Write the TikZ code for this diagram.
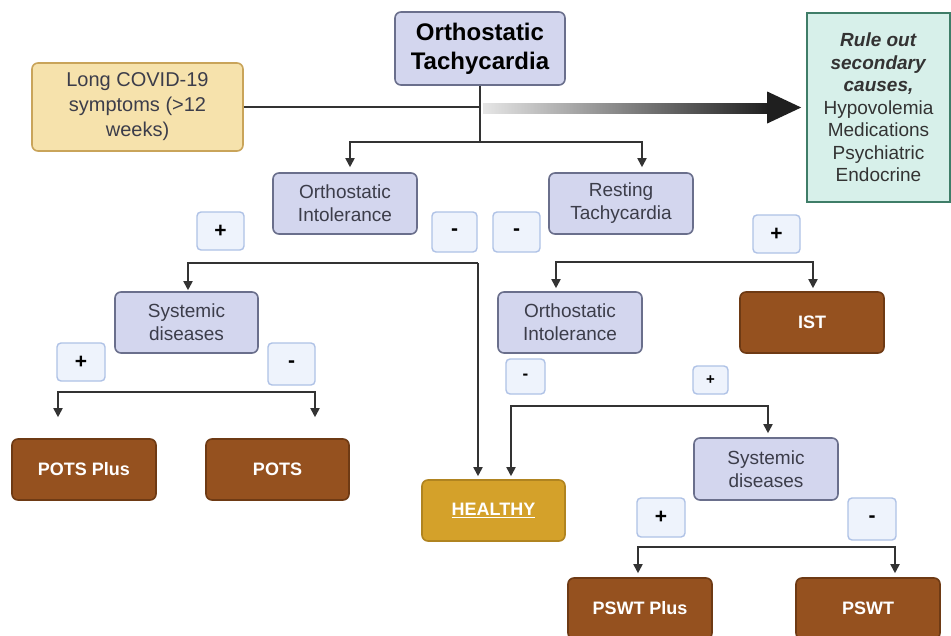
\documentclass[tikz,border=0pt]{standalone}
\usepackage{fontspec}
\setmainfont{Liberation Sans}
\usepackage{xcolor}
\usetikzlibrary{arrows.meta}

\definecolor{lavfill}{HTML}{D3D6EE}
\definecolor{lavline}{HTML}{6A6F8C}
\definecolor{lavtext}{HTML}{3C3D4A}
\definecolor{covfill}{HTML}{F6E2AC}
\definecolor{covline}{HTML}{C9A45A}
\definecolor{mintfill}{HTML}{D7F0EA}
\definecolor{mintline}{HTML}{3F7D68}
\definecolor{signfill}{HTML}{EEF3FC}
\definecolor{signline}{HTML}{AFC2E6}
\definecolor{brownfill}{HTML}{95511F}
\definecolor{brownline}{HTML}{6E3A14}
\definecolor{goldfill}{HTML}{D4A12A}
\definecolor{goldline}{HTML}{B08420}
\definecolor{linec}{HTML}{333333}

\begin{document}
\begin{tikzpicture}[x=1pt, y=-1pt,
  box/.style={draw=lavline, fill=lavfill, line width=1.6pt, rounded corners=6pt, align=center, inner sep=0pt, minimum width=144pt, minimum height=61pt, text=lavtext, font=\fontsize{19}{23}\selectfont},
  outcome/.style={box, draw=brownline, fill=brownfill, text=white, font=\bfseries\fontsize{18}{22}\selectfont},
  sign/.style={draw=signline, fill=signfill, line width=1.4pt, rounded corners=4pt, inner sep=0pt, minimum width=47pt, minimum height=39pt, font=\bfseries\fontsize{21}{21}\selectfont},
  link/.style={draw=linec, line width=1.8pt},
  tip/.style={link, -{Triangle[length=9pt,width=9pt]}, shorten >=3pt}]
  \useasboundingbox[fill=white] (0,0) rectangle (951,635);

  % Main boxes
  \node[box, minimum width=170pt, minimum height=73pt, text=black, font=\bfseries\fontsize{24}{29}\selectfont] (top) at (480,48.5) {Orthostatic\\Tachycardia};
  \node[box, draw=covline, fill=covfill, minimum width=211pt, minimum height=88pt, font=\fontsize{20}{25}\selectfont] (covid) at (137.5,107) {Long COVID-19\\symptoms (>12\\weeks)};
  \node[box, draw=mintline, fill=mintfill, rounded corners=0pt, minimum width=143pt, minimum height=189pt, text=linec, font=\fontsize{19}{22.5}\selectfont] (rule) at (878.5,107.5) {\textbf{\textit{Rule out}}\\\textbf{\textit{secondary}}\\\textbf{\textit{causes,}}\\Hypovolemia\\Medications\\Psychiatric\\Endocrine};

  \node[box] (oi1) at (345,203.5) {Orthostatic\\Intolerance};
  \node[box] (rt) at (621,203.5) {Resting\\Tachycardia};
  \node[box, minimum width=143pt] (sys1) at (186.5,322.5) {Systemic\\diseases};
  \node[box] (oi2) at (570,322.5) {Orthostatic\\Intolerance};
  \node[box, minimum height=62pt] (sys2) at (766,469) {Systemic\\diseases};

  % Outcomes
  \node[outcome] (potsplus) at (84,469.5) {POTS Plus};
  \node[outcome, minimum width=143pt] (pots) at (277.5,469.5) {POTS};
  \node[outcome, draw=goldline, fill=goldfill, minimum width=143pt] (healthy) at (493.5,510.5) {\underline{HEALTHY}};
  \node[outcome] (ist) at (812,322.5) {IST};
  \node[outcome] (pswtplus) at (640,608.5) {PSWT Plus};
  \node[outcome] (pswt) at (868,608.5) {PSWT};

  % Signs
  \node[sign, minimum height=38pt] (s1) at (220.5,231) {+};
  \node[sign, minimum width=45pt, minimum height=40pt] (s2) at (454.5,232) {-};
  \node[sign, minimum height=40pt] (s3) at (516.5,232) {-};
  \node[sign, minimum height=38pt] (s4) at (776.5,234) {+};
  \node[sign, minimum width=48pt, minimum height=38pt] (s5) at (81,362) {+};
  \node[sign, minimum height=42pt] (s6) at (291.5,364) {-};
  \node[sign, minimum width=39pt, minimum height=35pt, font=\bfseries\fontsize{17}{17}\selectfont] (s7) at (525.5,376.5) {-};
  \node[sign, minimum width=35pt, minimum height=28pt, font=\bfseries\fontsize{15}{15}\selectfont] (s8) at (710.5,380) {+};
  \node[sign, minimum width=48pt] (s9) at (661,517.5) {+};
  \node[sign, minimum width=48pt, minimum height=42pt] (s10) at (872,519) {-};

  % Stem and gradient arrow
  \coordinate (split) at (480,142);
  \draw[link] (covid.east) -- (covid.east -| top.south);
  \draw[link] (top.south) -- (split);
  \shade[left color=black!10, middle color=black!85, right color=black!88] (483,103) rectangle (770,113);
  \fill[black!88] ([xshift=-39pt,yshift=16pt]rule.west) -- ([xshift=-5pt]rule.west) -- ([xshift=-39pt,yshift=-16pt]rule.west) -- cycle;

  % Branches
  \draw[tip, shorten >=5pt] (split) -| ([xshift=5pt]oi1.north);
  \draw[tip, shorten >=5pt] (split) -| ([xshift=21pt]rt.north);

  \coordinate (b1) at (478,263);
  \draw[tip, shorten >=1pt] (b1) -| ([xshift=1.5pt]sys1.north);
  \draw[tip] (b1) -- ([xshift=-15.5pt]healthy.north);

  \coordinate (b2) at (186,392);
  \draw[tip, shorten >=0pt] (b2) -| ([xshift=-26pt,yshift=21pt]potsplus.north);
  \draw[tip, shorten >=0pt] (b2) -| ([xshift=37.5pt,yshift=21pt]pots.north);

  \coordinate (b3) at (684,262);
  \draw[tip] (b3) -| ([xshift=-14pt]oi2.north);
  \draw[tip] (b3) -| ([xshift=1pt]ist.north);

  \coordinate (b4) at (640,406);
  \draw[tip] (b4) -| ([xshift=17.5pt]healthy.north);
  \draw[tip, shorten >=4pt] (b4) -| ([xshift=2pt]sys2.north);

  \coordinate (b5) at (766,547);
  \draw[tip, shorten >=4pt] (b5) -| ([xshift=-2pt]pswtplus.north);
  \draw[tip, shorten >=4pt] (b5) -| ([xshift=27pt]pswt.north);
\end{tikzpicture}
\end{document}
